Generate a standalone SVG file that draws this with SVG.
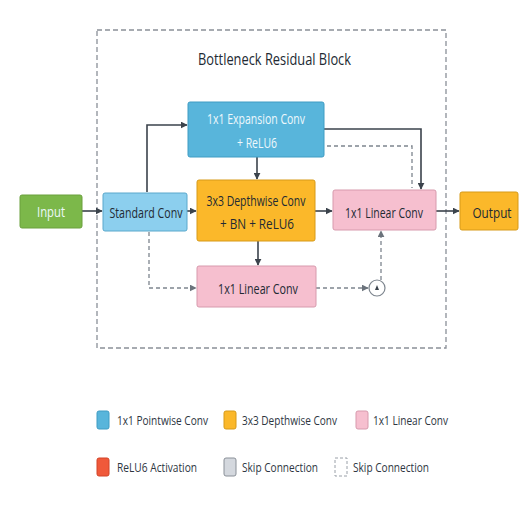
<svg xmlns="http://www.w3.org/2000/svg" width="526" height="528" viewBox="0 0 526 528">
  <defs>
    <marker id="arr" viewBox="0 0 10 10" refX="9" refY="5" markerWidth="7" markerHeight="7" orient="auto" markerUnits="userSpaceOnUse">
      <path d="M0,0 L10,5 L0,10 z" fill="#3b434c"/>
    </marker>
    <marker id="arrd" viewBox="0 0 10 10" refX="9" refY="5" markerWidth="7" markerHeight="7" orient="auto" markerUnits="userSpaceOnUse">
      <path d="M0,0 L10,5 L0,10 z" fill="#6b737c"/>
    </marker>
  </defs>
  <style>
    text { font-family: "Open Sans", "Liberation Sans", sans-serif; }
    .lbl { font-size: 14px; text-anchor: middle; dominant-baseline: central; fill: #222a33; }
    .lw { fill: #eef8fc; }
    .leg { font-size: 13px; dominant-baseline: central; fill: #2e363f; }
    .solid { fill: none; stroke: #3b434c; stroke-width: 1.6; }
    .dash { fill: none; stroke: #7d858e; stroke-width: 1.3; stroke-dasharray: 4 3; }
    .green { fill: #7cb84a; stroke: #6aa03c; }
    .lblue { fill: #8ccfee; stroke: #5aa8cc; }
    .blue { fill: #58b5db; stroke: #3f9cc3; }
    .orange { fill: #fbb82a; stroke: #d79a18; }
    .pink { fill: #f6bfcf; stroke: #d79aad; }
  </style>
  <rect width="526" height="528" fill="#ffffff"/>

  <!-- block frame -->
  <rect x="97" y="30" width="349" height="318" fill="none" stroke="#8a9098" stroke-width="1.3" stroke-dasharray="5 3"/>
  <text x="274.5" y="58" font-size="17" text-anchor="middle" dominant-baseline="central" fill="#222a33" textLength="153" lengthAdjust="spacingAndGlyphs">Bottleneck Residual Block</text>

  <!-- connectors -->
  <g id="connectors">
    <line class="solid" x1="82" y1="211" x2="102" y2="211" marker-end="url(#arr)"/>
    <line class="solid" x1="187" y1="211" x2="196" y2="211" marker-end="url(#arr)"/>
    <polyline class="solid" points="147,192 147,125 187,125" marker-end="url(#arr)"/>
    <line class="solid" x1="257" y1="157" x2="257" y2="179" marker-end="url(#arr)"/>
    <polyline class="solid" points="324,129 421,129 421,189" marker-end="url(#arr)"/>
    <polyline class="dash" points="327,146 412,146 412,188"/>
    <line class="solid" x1="315" y1="211" x2="332" y2="211" marker-end="url(#arr)"/>
    <line class="solid" x1="436" y1="211" x2="459" y2="211" marker-end="url(#arr)"/>
    <polyline class="dash" points="149,232 149,288 196,288" marker-end="url(#arrd)"/>
    <line class="solid" x1="258" y1="241" x2="258" y2="265" marker-end="url(#arr)"/>
    <line class="dash" x1="316" y1="288" x2="368" y2="288" marker-end="url(#arrd)"/>
    <line class="dash" x1="381" y1="280" x2="381" y2="231" marker-end="url(#arrd)"/>
  </g>

  <g id="input">
    <rect class="green" x="20" y="195" width="62" height="33" rx="2"/>
    <text class="lbl lw" x="51" y="211" textLength="28" lengthAdjust="spacingAndGlyphs">Input</text>
  </g>
  <g id="standard-conv">
    <rect class="lblue" x="103" y="193" width="84" height="38" rx="2"/>
    <text class="lbl" x="146" y="212" textLength="73" lengthAdjust="spacingAndGlyphs">Standard Conv</text>
  </g>
  <g id="expansion-conv">
    <rect class="blue" x="188" y="102" width="136" height="55" rx="2"/>
    <text class="lbl lw" x="256" y="118" textLength="98" lengthAdjust="spacingAndGlyphs">1x1 Expansion Conv</text>
    <text class="lbl lw" x="257" y="142" textLength="40" lengthAdjust="spacingAndGlyphs">+ ReLU6</text>
  </g>
  <g id="depthwise-conv">
    <rect class="orange" x="197" y="180" width="118" height="61" rx="2"/>
    <text class="lbl" x="256" y="200" textLength="99" lengthAdjust="spacingAndGlyphs">3x3 Depthwise Conv</text>
    <text class="lbl" x="257" y="223" textLength="74" lengthAdjust="spacingAndGlyphs">+ BN + ReLU6</text>
  </g>
  <g id="linear-conv">
    <rect class="pink" x="333" y="190" width="103" height="40" rx="2"/>
    <text class="lbl" x="384" y="212" textLength="78" lengthAdjust="spacingAndGlyphs">1x1 Linear Conv</text>
  </g>
  <g id="output">
    <rect class="orange" x="460" y="192" width="58" height="38" rx="2"/>
    <text class="lbl" x="492" y="212" textLength="39" lengthAdjust="spacingAndGlyphs">Output</text>
  </g>
  <g id="linear-conv-skip">
    <rect class="pink" x="197" y="266" width="119" height="41" rx="2"/>
    <text class="lbl" x="258" y="288" textLength="80" lengthAdjust="spacingAndGlyphs">1x1 Linear Conv</text>
  </g>
  <g id="add">
    <circle cx="377" cy="288" r="8" fill="#ffffff" stroke="#7d858e" stroke-width="1.2"/>
    <path d="M377,285 L379,290 L375,290 z" fill="#3b434c"/>
  </g>

  <!-- legend -->
  <g id="legend">
    <rect x="97" y="411" width="12" height="18" rx="2" fill="#58b5db" stroke="#3f9cc3"/>
    <text class="leg" x="117" y="420" textLength="91" lengthAdjust="spacingAndGlyphs">1x1 Pointwise Conv</text>
    <rect x="224" y="411" width="12" height="18" rx="2" fill="#fbb82a" stroke="#d79a18"/>
    <text class="leg" x="242" y="420" textLength="95" lengthAdjust="spacingAndGlyphs">3x3 Depthwise Conv</text>
    <rect x="356" y="411" width="12" height="18" rx="2" fill="#f6bfcf" stroke="#d79aad"/>
    <text class="leg" x="373" y="420" textLength="75" lengthAdjust="spacingAndGlyphs">1x1 Linear Conv</text>

    <rect x="97" y="458" width="12" height="18" rx="2" fill="#f0593a" stroke="#d24428"/>
    <text class="leg" x="117" y="467" textLength="80" lengthAdjust="spacingAndGlyphs">ReLU6 Activation</text>
    <rect x="224" y="458" width="12" height="18" rx="2" fill="#d4d8de" stroke="#8a9098"/>
    <text class="leg" x="242" y="467" textLength="76" lengthAdjust="spacingAndGlyphs">Skip Connection</text>
    <rect x="335" y="458" width="12" height="18" fill="none" stroke="#9aa0a8" stroke-width="1" stroke-dasharray="3 2"/>
    <text class="leg" x="353" y="467" textLength="76" lengthAdjust="spacingAndGlyphs">Skip Connection</text>
  </g>
</svg>
